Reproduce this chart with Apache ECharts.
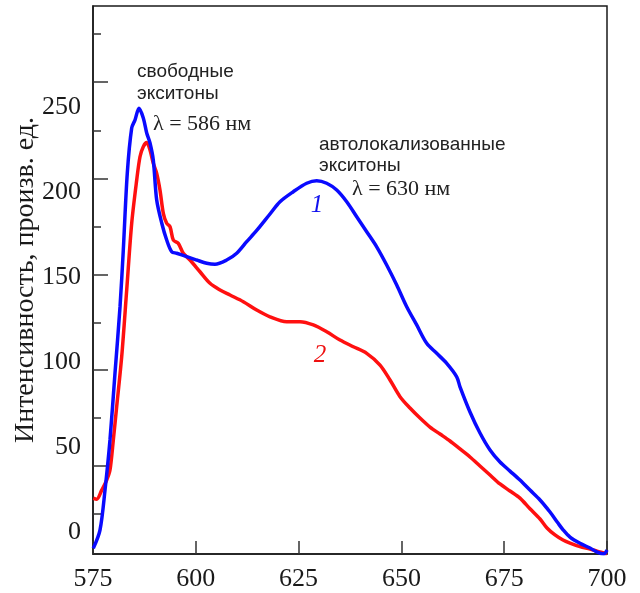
<!DOCTYPE html>
<html>
<head>
<meta charset="utf-8">
<script src="https://cdn.jsdelivr.net/npm/echarts@6/dist/echarts.min.js"></script>
<style>html,body{margin:0;padding:0;background:#fff}#c{width:640px;height:593px}</style>
</head>
<body>
<div id="c"></div>
<script>
// Wavelength (nm) / intensity (arb. units) pairs
const curve1 = [
  [575.07,-9.8],[576.70,1.0],[577.92,24.5],[579.13,54.0],[580.35,93.4],[581.57,132.3],
  [582.37,165.8],[583.34,211.1],[584.41,237.6],[585.21,242.3],[586.19,249.2],[587.23,243.5],
  [588.06,234.7],[588.86,228.8],[589.66,218.8],[590.49,195.2],[591.71,181.7],[592.92,171.7],
  [594.14,164.8],[595.35,163.9],[597.79,161.9],[600.22,159.9],[602.65,158.0],[604.67,157.4],
  [607.51,159.9],[609.95,163.9],[612.38,170.7],[614.81,177.3],[618.04,187.0],[620.48,194.2],
  [623.71,200.1],[626.97,205.1],[629.40,206.6],[631.83,205.1],[634.27,201.1],[636.70,194.2],
  [639.13,185.4],[641.56,176.6],[643.99,167.7],[646.42,157.0],[648.86,145.2],[651.29,132.4],
  [653.72,121.7],[656.15,110.9],[658.59,105.0],[661.02,99.1],[663.45,91.2],[664.25,85.3],
  [666.68,70.5],[669.11,58.1],[671.55,48.1],[673.98,41.0],[676.41,35.7],[678.84,30.4],
  [681.27,24.5],[683.71,18.7],[686.14,11.6],[688.08,5.1],[689.37,1.0],[691.0,-3.1],
  [693.43,-6.8],[695.87,-9.6],[697.49,-11.8],[699.27,-13.0],[700.0,-10.8]
];
const curve2 = [
  [575.07,19.7],[575.90,19.1],[577.12,24.5],[578.33,30.4],[579.13,36.3],[579.94,54.0],
  [580.76,73.6],[581.98,103.0],[583.20,142.3],[584.41,181.5],[585.63,207.0],[586.43,220.7],
  [587.23,226.6],[588.06,229.0],[588.86,224.7],[589.66,216.8],[590.49,210.9],[591.29,201.1],
  [592.10,187.4],[592.92,181.5],[593.73,179.5],[594.53,171.7],[595.74,169.7],[596.96,163.9],
  [598.59,159.9],[601.02,153.0],[603.45,146.2],[605.89,142.3],[608.32,139.3],[611.55,135.4],
  [614.81,130.5],[618.04,126.5],[622.11,123.6],[625.34,123.6],[628.58,121.7],[631.83,117.7],
  [635.07,112.8],[638.30,108.9],[641.56,105.0],[644.80,98.1],[647.23,89.3],[649.66,79.5],
  [652.09,72.8],[654.52,66.9],[656.95,61.6],[659.39,57.5],[661.82,53.4],[664.25,48.7],
  [666.68,44.0],[669.11,38.7],[671.55,33.4],[673.98,28.1],[676.41,24.0],[678.84,19.8],
  [681.27,13.5],[683.71,7.5],[685.41,2.2],[687.35,-1.9],[689.30,-4.9],[691.0,-6.7],
  [693.43,-8.8],[695.87,-10.2],[697.57,-11.4],[699.27,-12.5],[700.0,-13.0]
];
const yLabelValues = [0, 50, 100, 150, 200, 250];
const yLongTicks = [38.7, 95.2, 151.5, 207.8, 264.9];
const yShortTicks = [10.5, 66.9, 123.2, 179.5, 236.0, 293.3];
const xMin = 575, xMax = 700, xStep = 25;
const yMin = -13.1, yMax = 309.4;

const axisColor = '#1a1a1a';
const serif = 'Liberation Serif';

const chart = echarts.init(document.getElementById('c'));
chart.setOption({
  animation: false,
  backgroundColor: '#fff',
  grid: { left: 93, right: 33, top: 6, bottom: 39, outerBoundsMode: 'none', containLabel: false,
          show: true, borderColor: axisColor, borderWidth: 1.5, backgroundColor: 'transparent' },
  xAxis: {
    type: 'value', min: xMin, max: xMax, interval: xStep,
    axisLine: { show: true, onZero: false, lineStyle: { color: axisColor, width: 1.5 } },
    axisTick: { show: true, inside: true, length: 13, lineStyle: { color: '#333', width: 1.5 } },
    axisLabel: { color: '#1a1a1a', fontFamily: serif, fontSize: 26, margin: 12 },
    splitLine: { show: false }
  },
  yAxis: [{
    type: 'value', min: yMin, max: yMax, position: 'left',
    name: 'Интенсивность, произв. ед.', nameLocation: 'middle', nameGap: 53, nameMoveOverlap: false,
    nameTextStyle: { color: '#1a1a1a', fontFamily: serif, fontSize: 28 },
    axisLine: { show: true, onZero: false, lineStyle: { color: axisColor, width: 1.5 } },
    axisTick: { show: true, inside: true, length: 15, customValues: yLongTicks, lineStyle: { color: '#333', width: 1.5 } },
    axisLabel: { color: '#1a1a1a', fontFamily: serif, fontSize: 26, margin: 12, customValues: yLabelValues },
    splitLine: { show: false }
  }, {
    type: 'value', min: yMin, max: yMax, position: 'left',
    axisLine: { show: false, onZero: false },
    axisTick: { show: true, inside: true, length: 8, customValues: yShortTicks, lineStyle: { color: '#333', width: 1.5 } },
    axisLabel: { show: false },
    splitLine: { show: false }
  }],
  series: [{
    type: 'line', data: curve2, yAxisIndex: 0, showSymbol: false, smooth: 0.3,
    lineStyle: { color: '#ff1010', width: 3.5 }, z: 2
  }, {
    type: 'line', data: curve1, yAxisIndex: 0, showSymbol: false, smooth: 0.3,
    lineStyle: { color: '#0a0aff', width: 3.5 }, z: 3
  }],
  graphic: [
    { type: 'text', x: 137, y: 72, style: { text: 'свободные', font: '19px "Liberation Sans"', fill: '#222', verticalAlign: 'middle' } },
    { type: 'text', x: 137, y: 94, style: { text: 'экситоны', font: '19px "Liberation Sans"', fill: '#222', verticalAlign: 'middle' } },
    { type: 'text', x: 153, y: 124, style: { text: 'λ = 586 нм', font: '22px "Liberation Serif"', fill: '#222', verticalAlign: 'middle' } },
    { type: 'text', x: 319, y: 145, style: { text: 'автолокализованные', font: '19px "Liberation Sans"', fill: '#222', verticalAlign: 'middle' } },
    { type: 'text', x: 319, y: 166, style: { text: 'экситоны', font: '19px "Liberation Sans"', fill: '#222', verticalAlign: 'middle' } },
    { type: 'text', x: 352, y: 189, style: { text: 'λ = 630 нм', font: '22px "Liberation Serif"', fill: '#222', verticalAlign: 'middle' } },
    { type: 'text', x: 317, y: 205, style: { text: '1', font: 'italic 25px "Liberation Serif"', fill: '#1010ee', align: 'center', verticalAlign: 'middle' } },
    { type: 'text', x: 320, y: 355, style: { text: '2', font: 'italic 25px "Liberation Serif"', fill: '#ee1010', align: 'center', verticalAlign: 'middle' } }
  ]
});
</script>
</body>
</html>
